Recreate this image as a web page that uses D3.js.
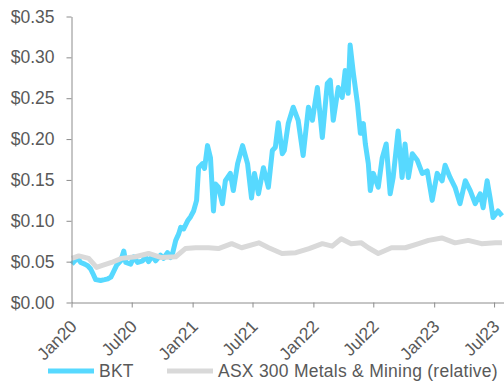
<!DOCTYPE html>
<html>
<head>
<meta charset="utf-8">
<script src="https://cdn.jsdelivr.net/npm/d3@7"></script>
<style>
  body { margin: 0; background: #fff; }
  svg { display: block; font-family: "Liberation Sans", Arial, sans-serif; }
</style>
</head>
<body>
<script>
// BKT share price
const bktDates = [
  "2020-01-02","2020-01-11","2020-01-20","2020-01-29","2020-02-10","2020-02-19","2020-02-28","2020-03-05",
  "2020-03-14","2020-03-29","2020-04-10","2020-04-20","2020-04-29","2020-05-05","2020-05-17","2020-05-29",
  "2020-06-07","2020-06-13","2020-06-28","2020-07-07","2020-07-19","2020-08-03","2020-08-12","2020-08-21",
  "2020-09-02","2020-09-11","2020-09-26","2020-10-05","2020-10-17","2020-10-26","2020-11-02","2020-11-11",
  "2020-11-20","2020-11-26","2020-12-05","2020-12-17","2020-12-26","2021-01-04","2021-01-13","2021-01-19",
  "2021-01-31","2021-02-06","2021-02-15","2021-02-24","2021-03-05","2021-03-11","2021-03-20","2021-04-01",
  "2021-04-10","2021-04-25","2021-05-04","2021-05-17","2021-06-01","2021-06-16","2021-06-28","2021-07-07",
  "2021-07-19","2021-08-03","2021-08-18","2021-08-30","2021-09-08","2021-09-17","2021-09-29","2021-10-05",
  "2021-10-17","2021-11-01","2021-11-16","2021-12-01","2021-12-17","2021-12-29","2022-01-13","2022-01-28",
  "2022-02-12","2022-02-21","2022-03-02","2022-03-17","2022-03-29","2022-04-07","2022-04-16","2022-04-22",
  "2022-05-02","2022-05-14","2022-05-23","2022-06-01","2022-06-07","2022-06-16","2022-06-22","2022-07-01",
  "2022-07-16","2022-07-28","2022-08-09","2022-08-21","2022-08-30","2022-09-14","2022-09-26","2022-10-05",
  "2022-10-15","2022-10-27","2022-11-11","2022-11-26","2022-12-11","2022-12-26","2023-01-10","2023-01-25",
  "2023-02-03","2023-02-18","2023-03-05","2023-03-20","2023-04-05","2023-04-20","2023-05-05","2023-05-20",
  "2023-05-29","2023-06-10","2023-06-19","2023-06-28","2023-07-13","2023-07-25"
];
const bktValues = [
  0.047,0.051,0.054,0.049,0.047,0.045,0.041,0.036,
  0.028,0.027,0.028,0.029,0.031,0.036,0.046,0.051,
  0.063,0.049,0.047,0.056,0.049,0.051,0.056,0.050,
  0.057,0.051,0.058,0.054,0.061,0.055,0.061,0.076,
  0.084,0.092,0.090,0.100,0.105,0.112,0.125,0.165,
  0.170,0.164,0.192,0.177,0.112,0.145,0.141,0.121,
  0.149,0.158,0.137,0.170,0.192,0.170,0.128,0.158,
  0.133,0.165,0.141,0.186,0.190,0.220,0.182,0.186,
  0.219,0.239,0.223,0.180,0.239,0.223,0.263,0.202,
  0.268,0.272,0.223,0.263,0.251,0.284,0.256,0.315,
  0.280,0.244,0.207,0.219,0.194,0.170,0.137,0.158,
  0.141,0.177,0.194,0.133,0.153,0.210,0.153,0.194,
  0.153,0.182,0.174,0.158,0.161,0.125,0.158,0.149,
  0.168,0.153,0.141,0.121,0.149,0.137,0.121,0.133,
  0.116,0.149,0.128,0.104,0.112,0.106
];

// ASX 300 Metals & Mining, rebased to BKT
const asxDates = [
  "2020-01-02","2020-01-23","2020-02-22","2020-03-17","2020-04-01","2020-05-01","2020-05-31","2020-07-12",
  "2020-08-21","2020-09-29","2020-11-11","2020-12-10","2021-01-10","2021-02-18","2021-03-20","2021-04-29",
  "2021-05-29","2021-07-20","2021-08-19","2021-09-28","2021-11-09","2021-12-19","2022-01-28","2022-02-27",
  "2022-03-26","2022-04-25","2022-05-26","2022-06-16","2022-07-16","2022-08-25","2022-10-06","2022-11-15",
  "2022-12-15","2023-01-24","2023-03-05","2023-04-14","2023-05-24","2023-07-05","2023-07-25"
];
const asxValues = [
  0.054,0.057,0.054,0.043,0.045,0.049,0.054,0.056,
  0.060,0.055,0.056,0.066,0.067,0.067,0.066,0.072,
  0.067,0.073,0.067,0.060,0.061,0.066,0.072,0.069,
  0.078,0.072,0.073,0.067,0.060,0.067,0.067,0.072,
  0.076,0.079,0.073,0.076,0.072,0.073,0.073
];

const yTicks = [0, 0.05, 0.10, 0.15, 0.20, 0.25, 0.30, 0.35];
const seriesNames = ["BKT", "ASX 300 Metals & Mining (relative)"];

const width = 504;
const height = 383;
const fontSize = 17.5;
const parse = d3.timeParse("%Y-%m-%d");

const bkt = bktDates.map((d, i) => ({ date: parse(d), value: bktValues[i] }));
const asx = asxDates.map((d, i) => ({ date: parse(d), value: asxValues[i] }));

const svg = d3.select("body").append("svg")
  .attr("width", width)
  .attr("height", height);

const x = d3.scaleTime()
  .domain([parse("2020-01-01"), parse("2023-07-31")])
  .range([71.5, 504]);

const y = d3.scaleLinear()
  .domain([0, 0.35])
  .range([302.5, 16.5]);

const line = d3.line()
  .x(d => x(d.date))
  .y(d => y(d.value));

const textColor = "#595959";
const axisColor = "#8c8c8c";

// lines
svg.append("path")
  .datum(bkt)
  .attr("fill", "none")
  .attr("stroke", "#57d9ff")
  .attr("stroke-width", 5)
  .attr("stroke-linejoin", "round")
  .attr("d", line);

svg.append("path")
  .datum(asx)
  .attr("fill", "none")
  .attr("stroke", "#d9d9d9")
  .attr("stroke-width", 5)
  .attr("stroke-linejoin", "round")
  .attr("d", line);

// y axis
const yAxis = svg.append("g")
  .attr("transform", "translate(71.5,0)")
  .call(d3.axisLeft(y)
    .tickValues(yTicks)
    .tickFormat(d => "$" + d.toFixed(2))
    .tickSize(5)
    .tickSizeOuter(0)
    .tickPadding(12));

// x axis
const xAxis = svg.append("g")
  .attr("transform", "translate(0,302.5)")
  .call(d3.axisBottom(x)
    .ticks(d3.timeMonth.every(6))
    .tickFormat(d3.timeFormat("%b%y"))
    .tickSize(5)
    .tickSizeOuter(0));

xAxis.selectAll("text")
  .attr("text-anchor", "end")
  .attr("x", 0)
  .attr("y", 0)
  .attr("dy", 0)
  .attr("transform", "translate(6,25) rotate(-45)");

[yAxis, xAxis].forEach(g => {
  g.select(".domain").attr("stroke", axisColor);
  g.selectAll(".tick line").attr("stroke", axisColor);
  g.selectAll("text")
    .attr("fill", textColor)
    .attr("font-size", fontSize)
    .attr("font-family", "Liberation Sans, Arial, sans-serif");
});

// legend
const legend = svg.append("g");
const legendItems = [
  { name: seriesNames[0], color: "#57d9ff", x: 48 },
  { name: seriesNames[1], color: "#d9d9d9", x: 167 }
];
legendItems.forEach(item => {
  legend.append("line")
    .attr("x1", item.x)
    .attr("x2", item.x + 46)
    .attr("y1", 371)
    .attr("y2", 371)
    .attr("stroke", item.color)
    .attr("stroke-width", 5);
  legend.append("text")
    .attr("x", item.x + 51)
    .attr("y", 377)
    .attr("fill", textColor)
    .attr("font-size", fontSize)
    .attr("letter-spacing", 0.25)
    .text(item.name);
});
</script>
</body>
</html>
